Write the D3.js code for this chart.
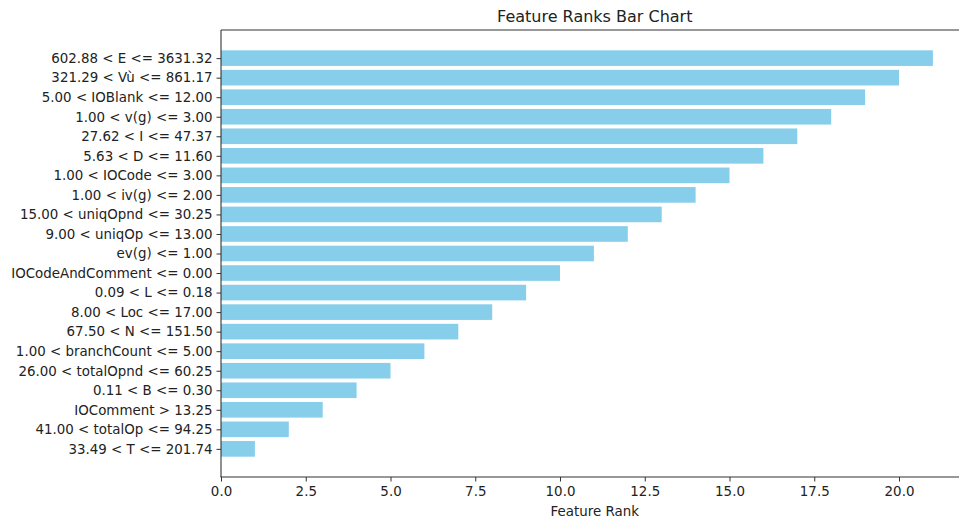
<!DOCTYPE html>
<html>
<head>
<meta charset="utf-8">
<script src="https://cdn.jsdelivr.net/npm/d3@7"></script>
<style>
  html, body { margin: 0; padding: 0; background: #fff; }
  svg { display: block; font-family: "DejaVu Sans", sans-serif; }
</style>
</head>
<body>
<svg id="chart" width="959" height="521"></svg>
<script>
// Feature conditions, listed from the highest rank to the lowest
const features = [
  "602.88 < E <= 3631.32",
  "321.29 < Vù <= 861.17",
  "5.00 < IOBlank <= 12.00",
  "1.00 < v(g) <= 3.00",
  "27.62 < I <= 47.37",
  "5.63 < D <= 11.60",
  "1.00 < IOCode <= 3.00",
  "1.00 < iv(g) <= 2.00",
  "15.00 < uniqOpnd <= 30.25",
  "9.00 < uniqOp <= 13.00",
  "ev(g) <= 1.00",
  "IOCodeAndComment <= 0.00",
  "0.09 < L <= 0.18",
  "8.00 < Loc <= 17.00",
  "67.50 < N <= 151.50",
  "1.00 < branchCount <= 5.00",
  "26.00 < totalOpnd <= 60.25",
  "0.11 < B <= 0.30",
  "IOComment > 13.25",
  "41.00 < totalOp <= 94.25",
  "33.49 < T <= 201.74"
];
const ranks = [21, 20, 19, 18, 17, 16, 15, 14, 13, 12, 11, 10, 9, 8, 7, 6, 5, 4, 3, 2, 1];
const xTicks = [0, 2.5, 5, 7.5, 10, 12.5, 15, 17.5, 20];

const svg = d3.select("#chart");
const plotLeft = 221, plotTop = 30, plotBottom = 477;
const xMax = 22.05;
const plotRight = plotLeft + xMax * 33.9;
const labelSize = "13.4px";

const x = d3.scaleLinear().domain([0, xMax]).range([plotLeft, plotRight]);
// bar index 0 sits at the bottom; padding follows a 5% axis margin
const n = features.length;
const y = d3.scaleLinear().domain([-1.44, n - 1 + 1.44]).range([plotBottom, plotTop]);
const barH = Math.abs(y(0.8) - y(0));

svg.append("g")
  .selectAll("rect")
  .data(features)
  .join("rect")
  .attr("x", x(0))
  .attr("y", (d, i) => y(n - 1 - i + 0.4))
  .attr("width", (d, i) => x(ranks[i]) - x(0))
  .attr("height", barH)
  .attr("fill", "#87ceeb");

// frame
svg.append("line").attr("x1", plotLeft).attr("x2", plotRight).attr("y1", plotTop).attr("y2", plotTop)
  .attr("stroke", "#333").attr("stroke-width", 1.1);
svg.append("line").attr("x1", plotRight).attr("x2", plotRight).attr("y1", plotTop).attr("y2", plotBottom)
  .attr("stroke", "#333").attr("stroke-width", 1.1);

// x axis
const xAxis = d3.axisBottom(x).tickValues(xTicks).tickFormat(d3.format(".1f")).tickSizeOuter(0).tickSize(4.5).tickPadding(5);
const gx = svg.append("g").attr("transform", `translate(0,${plotBottom})`).call(xAxis);
gx.select(".domain").attr("stroke", "#333").attr("stroke-width", 1.1).attr("d", `M${plotLeft - 0.5},0H${plotRight}`);
gx.selectAll(".tick line").attr("stroke", "#333");
gx.selectAll(".tick text").attr("fill", "#222").style("font-size", labelSize).style("font-family", "DejaVu Sans");

// y axis with the feature conditions
const yAxis = d3.axisLeft(y).tickValues(d3.range(n)).tickFormat(i => features[n - 1 - i]).tickSizeOuter(0).tickSize(4.5).tickPadding(4);
const gy = svg.append("g").attr("transform", `translate(${plotLeft},0)`).call(yAxis);
gy.select(".domain").attr("stroke", "#333").attr("stroke-width", 1.1).attr("d", `M0,${plotTop}V${plotBottom}`);
gy.selectAll(".tick line").attr("stroke", "#333");
gy.selectAll(".tick text").attr("fill", "#222").style("font-size", labelSize).style("font-family", "DejaVu Sans");

// title and axis label
svg.append("text").attr("x", (plotLeft + plotRight) / 2).attr("y", 22).attr("text-anchor", "middle")
  .attr("fill", "#222").style("font-size", "16px").text("Feature Ranks Bar Chart");
svg.append("text").attr("x", (plotLeft + plotRight) / 2).attr("y", 516).attr("text-anchor", "middle")
  .attr("fill", "#222").style("font-size", labelSize).text("Feature Rank");
</script>
</body>
</html>
